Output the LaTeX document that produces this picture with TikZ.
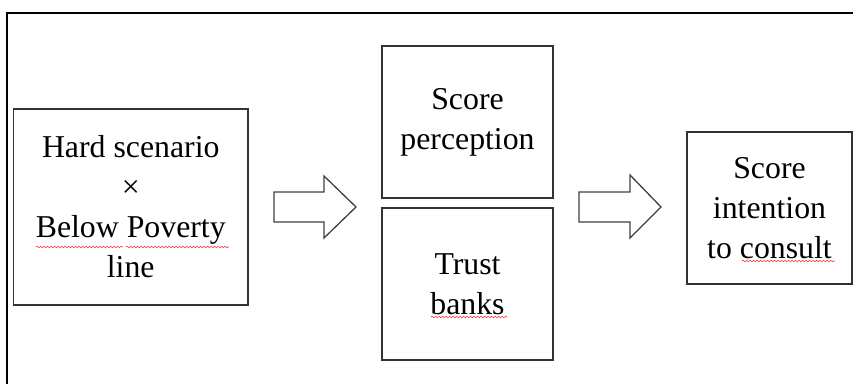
\documentclass[tikz,border=0pt]{standalone}
\usepackage{fontspec}
\setmainfont{Liberation Serif}
\usetikzlibrary{decorations.pathmorphing}
\begin{document}
\begin{tikzpicture}[x=1pt,y=1pt,
  box/.style={draw=black!80,line width=1.3pt,align=center,inner sep=0pt,
    font=\fontsize{31.8}{40}\selectfont},
  blockarrow/.style={draw=black!75,line width=1.3pt,fill=white,line join=miter},
  spell/.style={draw=red!80,line width=0.6pt,decorate,
    decoration={snake,amplitude=0.9pt,segment length=3.5pt}}]
\useasboundingbox (0,0) rectangle (853,384);
\draw[line width=2pt] (7,0) -- (7,371) -- (853,371);
\node[box,minimum width=234.5pt,minimum height=196pt] (left) at (130.75,177)
  {Hard scenario\\×\\Below Poverty\\line};
\node[box,minimum width=171pt,minimum height=152pt] (perc) at (467.5,262)
  {Score\\perception};
\node[box,minimum width=171pt,minimum height=152pt] (trust) at (467.5,100)
  {Trust\\banks};
\node[box,minimum width=165pt,minimum height=152pt] (cons) at (769.5,176)
  {Score\\intention\\to consult};
% block arrows
\draw[blockarrow] (274,192) -- (324,192) -- (324,208) -- (356,177) -- (324,146)
  -- (324,162) -- (274,162) -- cycle;
\draw[blockarrow] (579,192) -- (630,192) -- (630,209) -- (661,177) -- (630,146)
  -- (630,162) -- (579,162) -- cycle;
% spell-check underlines
\draw[spell] (36,137) -- (123,137);
\draw[spell] (126,137) -- (229,137);
\draw[spell] (431,67) -- (507,67);
\draw[spell] (742,123) -- (835,123);
\end{tikzpicture}
\end{document}
